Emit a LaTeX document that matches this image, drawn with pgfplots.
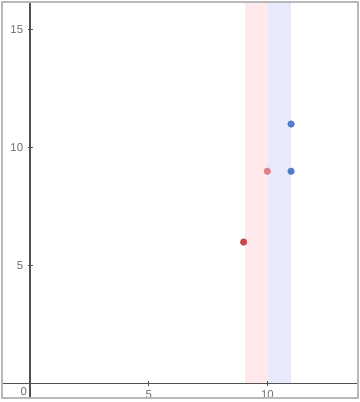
\documentclass[border=0pt]{standalone}
\usepackage{fontspec}
\setmainfont{Liberation Sans}
\usepackage{pgfplots}
\pgfplotsset{compat=1.18}
\definecolor{pinkband}{RGB}{255,233,236}
\definecolor{blueband}{RGB}{233,233,252}
\definecolor{dred}{RGB}{200,72,72}
\definecolor{lred}{RGB}{222,128,138}
\definecolor{mblue}{RGB}{78,128,200}
\definecolor{axgray}{RGB}{80,80,80}
\definecolor{labgray}{RGB}{110,110,110}
\begin{document}
\begin{tikzpicture}
\begin{axis}[
  scale only axis,
  width=361pt, height=402pt,
  xmin=-1.241, xmax=13.845,
  ymin=-0.66, ymax=16.23,
  axis lines=middle,
  axis line style={-, axgray, line width=1.3pt},
  xtick={5,10}, ytick={5,10,15},
  major tick length=5pt,
  tick align=center,
  tick style={axgray, line width=0.9pt},
  tick label style={font=\fontsize{11.5}{12}\selectfont, text=labgray},
  /pgf/number format/assume math mode=true,
  xticklabel style={anchor=north, yshift=-1pt},
  yticklabel style={anchor=east, xshift=-1pt},
  clip=false,
  axis on top,
]
\addplot[fill=pinkband, draw=none] coordinates {(9.05,16.2) (10.02,16.2)} \closedcycle;
\addplot[fill=blueband, draw=none] coordinates {(10.02,16.2) (10.98,16.2)} \closedcycle;
\addplot[only marks, mark=*, mark size=3.4pt, dred, mark options={draw=none, fill=dred}] coordinates {(9,6)};
\addplot[only marks, mark=*, mark size=3.4pt, lred, mark options={draw=none, fill=lred}] coordinates {(10,9)};
\addplot[only marks, mark=*, mark size=3.4pt, mblue, mark options={draw=none, fill=mblue}] coordinates {(11,11) (11,9)};
\node[anchor=north east, font=\fontsize{11.5}{12}\selectfont, text=labgray, inner sep=0pt] at ([shift={(-3pt,-4pt)}]axis cs:0,0) {0};
\coordinate (SW) at (rel axis cs:0,0);
\coordinate (NE) at (rel axis cs:1,1);
\end{axis}
\draw[gray!55, line width=2pt] ([shift={(1pt,1pt)}]SW) rectangle ([shift={(-1pt,-1pt)}]NE);
\end{tikzpicture}
\end{document}
